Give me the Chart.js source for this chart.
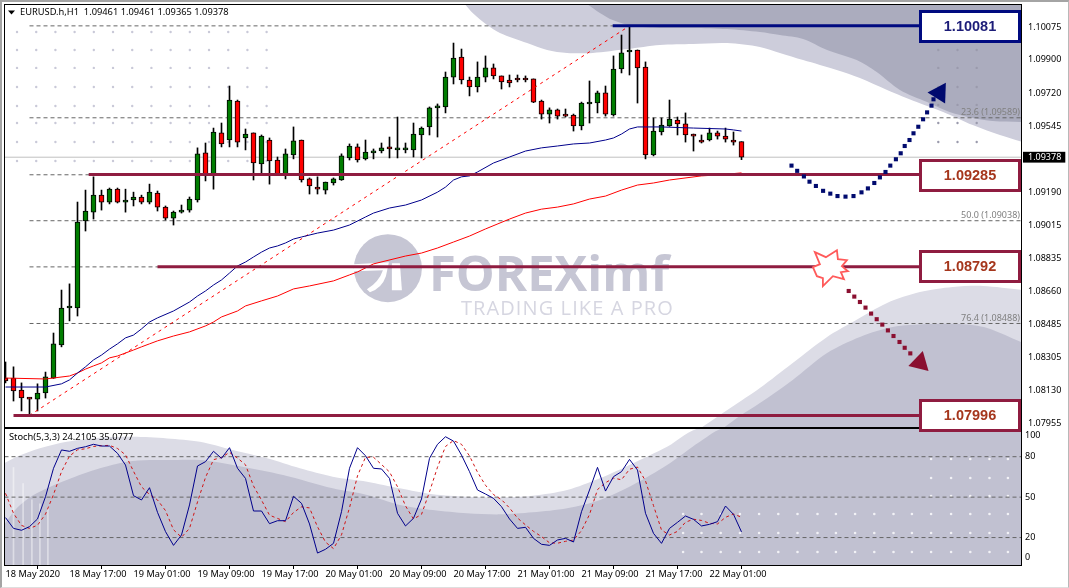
<!DOCTYPE html>
<html>
<head>
<title>EURUSD H1</title>
<meta charset="UTF-8">
<script src="https://cdn.jsdelivr.net/npm/chart.js"></script>
<style>
html, body {margin: 0; padding: 0; background: #fff; overflow: hidden;}
#frame {position: absolute; left: 0; top: 0; width: 1066px; height: 585px; border-top: 2px solid #a4a4a4; border-left: 2px solid #a4a4a4; border-right: 1px solid #b8b8b8; border-bottom: 1px solid #dedede;}
canvas {position: absolute; left: 0; top: 0;}
</style>
</head>
<body>
<div id="frame"></div>
<canvas id="stochChart" width="1069" height="588"></canvas>
<canvas id="priceChart" width="1069" height="588"></canvas>
<script>
// candles, one per hour
const opens = [
  1.08196,1.08196,1.08132,1.08089,1.08083,1.08116,1.08196,1.08373,1.08571,1.08571,
  1.09037,1.09084,1.09175,1.09138,1.09207,1.09138,1.09149,1.09165,1.09138,1.09186,
  1.09111,1.09052,1.09084,1.09095,1.09149,1.09401,1.09283,1.09508,1.09470,1.09679,
  1.09481,1.09508,1.09342,1.09470,1.09363,1.09289,1.09390,1.09470,1.09262,1.09218,
  1.09202,1.09240,1.09256,1.09374,1.09433,1.09369,1.09401,1.09411,1.09433,1.09417,
  1.09417,1.09417,1.09497,1.09540,1.09642,1.09647,1.09807,1.09914,1.09791,1.09754,
  1.09807,1.09856,1.09813,1.09791,1.09802,1.09797,1.09797,1.09679,1.09609,1.09631,
  1.09609,1.09604,1.09545,1.09663,1.09668,1.09722,1.09604,1.09850,1.09941,1.09952,
  1.09861,1.09390,1.09513,1.09545,1.09577,1.09556,1.09497,1.09470,1.09470,1.09508,
  1.09491,1.09470,1.09461];
const highs = [
  1.08282,1.08256,1.08170,1.08092,1.08165,1.08228,1.08437,1.08667,1.08700,1.09138,
  1.09202,1.09273,1.09202,1.09213,1.09213,1.09207,1.09191,1.09175,1.09234,1.09197,
  1.09117,1.09090,1.09122,1.09165,1.09428,1.09454,1.09534,1.09561,1.09759,1.09684,
  1.09529,1.09508,1.09497,1.09481,1.09379,1.09422,1.09540,1.09470,1.09267,1.09273,
  1.09245,1.09267,1.09396,1.09449,1.09449,1.09470,1.09422,1.09454,1.09486,1.09593,
  1.09454,1.09561,1.09540,1.09647,1.09663,1.09834,1.09989,1.09957,1.09807,1.09888,
  1.09920,1.09877,1.09813,1.09818,1.09818,1.09813,1.09797,1.09684,1.09642,1.09636,
  1.09636,1.09609,1.09673,1.09786,1.09732,1.09759,1.09920,1.10032,1.10081,1.09952,
  1.09888,1.09588,1.09588,1.09684,1.09593,1.09615,1.09502,1.09497,1.09534,1.09518,
  1.09534,1.09513,1.09461];
const lows = [
  1.08170,1.08073,1.08020,1.07998,1.08020,1.08089,1.08194,1.08363,1.08502,1.08528,
  1.08983,1.09047,1.09095,1.09128,1.09133,1.09084,1.09117,1.09128,1.09128,1.09090,
  1.09042,1.09015,1.09079,1.09084,1.09138,1.09251,1.09207,1.09433,1.09433,1.09433,
  1.09417,1.09256,1.09289,1.09234,1.09283,1.09262,1.09369,1.09245,1.09181,1.09181,
  1.09181,1.09229,1.09254,1.09363,1.09352,1.09363,1.09369,1.09401,1.09374,1.09374,
  1.09401,1.09379,1.09374,1.09497,1.09486,1.09615,1.09770,1.09770,1.09706,1.09727,
  1.09781,1.09797,1.09743,1.09754,1.09781,1.09781,1.09670,1.09582,1.09561,1.09582,
  1.09593,1.09518,1.09524,1.09561,1.09615,1.09598,1.09598,1.09829,1.09818,1.09668,
  1.09369,1.09385,1.09497,1.09543,1.09497,1.09459,1.09411,1.09454,1.09465,1.09475,
  1.09459,1.09443,1.09365];
const closes = [
  1.08181,1.08127,1.08089,1.08083,1.08116,1.08202,1.08379,1.08571,1.08577,1.09031,
  1.09090,1.09175,1.09138,1.09207,1.09138,1.09149,1.09165,1.09138,1.09191,1.09111,
  1.09052,1.09084,1.09095,1.09154,1.09396,1.09289,1.09513,1.09449,1.09684,1.09459,
  1.09502,1.09347,1.09491,1.09358,1.09289,1.09396,1.09465,1.09256,1.09224,1.09207,
  1.09245,1.09262,1.09385,1.09438,1.09363,1.09406,1.09411,1.09428,1.09422,1.09428,
  1.09428,1.09502,1.09534,1.09642,1.09652,1.09807,1.09909,1.09791,1.09754,1.09807,
  1.09856,1.09813,1.09781,1.09775,1.09791,1.09791,1.09673,1.09609,1.09631,1.09598,
  1.09598,1.09545,1.09668,1.09673,1.09722,1.09609,1.09850,1.09936,1.09952,1.09856,
  1.09390,1.09518,1.09550,1.09582,1.09556,1.09497,1.09491,1.09459,1.09508,1.09491,
  1.09475,1.09459,1.09378];

// moving averages, read at these bars
const blueMaBars = [0,5,7,8,9,10,11,12,13,14,15,16,17,18,19,21,23,24,25,26,27,28,29,30,31,32,33,34,35,36,37,39,41,43,45,46,48,50,52,54,55,56,57,58,59,61,63,65,67,69,71,73,75,76,77,78,79,80,82,86,90,91,92];
const blueMa = [1.08148,1.08148,1.08165,1.08186,1.08223,1.08256,1.08293,1.08319,1.08351,1.08379,1.08411,1.08426,1.08459,1.08496,1.08518,1.08555,1.08603,1.08635,1.08662,1.08694,1.08721,1.08758,1.08796,1.08817,1.08844,1.08870,1.08892,1.08903,1.08919,1.08940,1.08951,1.08972,1.08988,1.09015,1.09058,1.09079,1.09106,1.09122,1.09149,1.09191,1.09218,1.09256,1.09273,1.09278,1.09299,1.09347,1.09379,1.09411,1.09428,1.09438,1.09449,1.09454,1.09470,1.09481,1.09502,1.09529,1.09540,1.09540,1.09540,1.09534,1.09529,1.09524,1.09518];
const redMaBars = [0,5,8,9,10,11,12,13,14,15,16,17,18,19,21,23,25,26,27,29,30,32,34,36,38,41,43,44,46,50,52,54,56,58,60,63,65,67,69,71,73,75,77,79,81,83,87,89,92];
const redMa = [1.08196,1.08191,1.08207,1.08223,1.08244,1.08261,1.08277,1.08304,1.08314,1.08330,1.08346,1.08363,1.08379,1.08395,1.08421,1.08443,1.08475,1.08496,1.08523,1.08555,1.08582,1.08609,1.08635,1.08673,1.08689,1.08716,1.08748,1.08764,1.08807,1.08849,1.08865,1.08892,1.08924,1.08956,1.08994,1.09047,1.09079,1.09100,1.09111,1.09128,1.09154,1.09170,1.09202,1.09229,1.09240,1.09256,1.09278,1.09283,1.09294];

// fibonacci and support/resistance levels
const fibLevels = [1.10081,1.09589,1.09284,1.09038,1.08791,1.08488,1.07994];
const fibLabels = [["23.6 (1.09589)",1.09589],["50.0 (1.09038)",1.09038],["76.4 (1.08488)",1.08488]];
const trendBars = [3,78];
const trendPrices = [1.07996,1.10081];
const bidPrice = 1.09378;
const blueLevel = 1.10081;
const maroonLevels = [1.09285,1.08792,1.07996];
const maroonStarts = [10.4,19,1];
const blueStart = 75.9;
const levelEnd = 114.25;

// price axis
const priceTicks = [1.10075,1.09900,1.09720,1.09545,1.09378,1.09190,1.09015,1.08835,1.08660,1.08485,1.08305,1.08130,1.07955];

// drawn arrows
const upArrowBars = [98.25,98.96,99.8,100.5,101.3,102.2,103.1,104,105,106,107,107.8,108.6,109.3,110,110.6,111.3,111.9,112.4,113,113.5,114.1,114.7,115.2,115.75,116];
const upArrowPrices = [1.09333,1.09305,1.09275,1.09247,1.09224,1.09198,1.09183,1.09170,1.09167,1.09170,1.09190,1.09211,1.09240,1.09270,1.09299,1.09333,1.09367,1.09399,1.09438,1.09470,1.09506,1.09541,1.09581,1.09618,1.09654,1.09688];
const downArrowBars = [105.4,106.1,106.8,107.5,108.2,108.9,109.6,110.3,111,111.75,112.4,113.1];
const downArrowPrices = [1.08662,1.08632,1.08603,1.08573,1.08541,1.08511,1.08482,1.08451,1.08421,1.08389,1.08358,1.08328];

// grey watermark shapes behind the chart
const topLightBars = [57.4,58.4,60.2,61.8,65.2,67.7,70.2,73.4,77.7,81.8,85.9,90.2,94.3,96.8,99.7,103.9,106.8,110.2,113.9,117.2,120.9,124.3,127.2];
const topLightPrices = [1.10198,1.10150,1.10086,1.10043,1.09989,1.09952,1.09936,1.09936,1.09957,1.09979,1.09984,1.09989,1.09968,1.09936,1.09898,1.09845,1.09802,1.09738,1.09673,1.09620,1.09550,1.09497,1.09459];
const topDarkBars = [72.7,74.3,75.9,78.4,81.8,85.9,90.2,94.3,96.8,99.7,102.7,106.4,108.9,111.8,115.2,118,120.9,123.4,127.2];
const topDarkPrices = [1.10198,1.10150,1.10112,1.10080,1.10070,1.10070,1.10064,1.10048,1.10032,1.10011,1.09952,1.09898,1.09834,1.09738,1.09673,1.09620,1.09588,1.09572,1.09566];
const lowLightBars = [87.1,90.6,94.3,98.4,102.7,105.9,110.2,114.3,118.4,122.2,127.2];
const lowLightPrices = [1.07934,1.08036,1.08143,1.08277,1.08416,1.08496,1.08598,1.08656,1.08683,1.08689,1.08667];
const lowDarkBars = [89.9,91.8,94.3,98.4,102.7,106.8,110.9,115.2,119.3,122.7,127.2];
const lowDarkPrices = [1.07934,1.07993,1.08062,1.08186,1.08330,1.08416,1.08469,1.08485,1.08485,1.08464,1.08384];
const stochLightBars = [-0.2,1.4,4.3,7.65,11.8,15.9,20.2,24.3,28.4,32.7,36.8,40.9,45.2,49.3,53.4,57.7,61.8,65.9,70.2,74.3,78.4,82.7,87,127.2];
const stochLightValues = [75.1,80,86.2,91.1,94.1,94.8,93.6,91.1,85,78.8,71.4,65.2,61.5,56.5,52.1,50.3,49.8,51.1,55.3,64,75,87.4,101.3,101.3];
const stochDarkBars = [-0.2,1.4,3.5,7.65,11.8,15.9,20.2,24.3,28.4,34.7,40.9,45.2,49.3,53.4,57.7,61.8,65.9,70.2,74.3,78.4,82.7,86.8,90,127.2];
const stochDarkValues = [29.3,41.7,51.6,62.7,71.4,76.8,77.5,77.5,73.8,66.4,56.5,51.6,44.2,40.4,38,37.2,38.7,41.7,47.9,59,73.8,91.1,101.3,101.3];
const streakBars = [1,2.2,3.3,4.3,5.3];
const streakTops = [72,60,48,45,42];

// dot grids of the watermark
const dotLeftBars = [1.44,3.84,6.24,8.64,11.04,13.44,15.84,18.24,20.64,23.04,25.44,27.84,30.24,32.64];
const dotLeftPrices = [1.10048,1.09952,1.09856,1.09754,1.09652,1.09561,1.09459,1.09358];
const dotRightBars = [116.6,119,121.4];
const dotRightPrices = [1.09952,1.09856,1.09754,1.09658,1.09561,1.09459];
const stochDotLowBars = [84.7,87,89.4,91.8,94.2,96.6,99,101.5,103.8,106.2,108.6,111,113.3,115.7,118.2,120.6,123,125.3];
const stochDotLowValues = [37.5,23.4,9.3];
const stochDotHighBars = [115.7,118.2,120.6,123,125.3];
const stochDotHighValues = [78.3,64.2,50.8];

// stochastic
const stochK = [
  34.8,26.8,25.4,28.1,33.8,50.3,71.4,85,84,86.2,
  87.4,89.2,87.9,87.9,82.5,73.8,51.1,47.9,57,38.7,
  24.4,14.2,21.9,44.2,73.1,76.3,84,78.8,86.7,71.4,
  63.9,39.7,39.7,30.3,32.5,32.5,50.6,45.4,30.1,8.5,
  11.3,15.7,39.2,71.4,86.7,80.7,71.4,70.9,63.9,38,
  28.6,34.3,48.6,78.8,89.2,94.8,91.6,81.2,68.9,55.3,
  52.3,49.1,42.9,33.8,26.8,27.6,19.4,15,14.2,18.2,
  19.4,16.7,39.2,55.3,72.1,54.5,65.2,68.9,78,70.1,
  38,23.1,15.7,26.8,31.3,36,33.5,28.6,29.8,31.8,
  43.4,37.2,24.21];
const stochD = [
  52.8,38,29,26.8,29.1,37.4,51.9,68.9,80.5,85.1,
  85.9,87.6,88.2,88.4,86.1,81.4,69.2,57.6,52,47.9,
  40,25.8,20.2,26.8,46.4,64.6,77.8,79.4,83.2,79,
  74,58.3,47.8,36.6,34.2,31.8,38.6,42.8,42,28,
  16.6,11.8,22,42.1,65.8,79.6,79.6,74.2,68.7,57.7,
  43.5,33.7,37.2,53.9,72.2,87.6,92,89.2,80.6,68.5,
  58.8,51.9,48.1,42,34.5,29.4,24.6,20.7,16.1,15.8,
  17.2,18.1,25.1,37.1,55.6,60.7,64.1,62.9,70.7,72.3,
  62,43.7,25.6,21.9,24.6,31.4,33.6,32.7,30.6,30.1,
  35,37.5,35.08];
const stochLevels = [80,50,20];
const stochTickValues = [96,80,50,20,5];
const stochTickLabels = ["100","80","50","20","0"];

// time axis
const timeTickBars = [0,8,16,24,32,40,48,56,64,72,80,88];
const timeLabels = ["18 May 2020","18 May 17:00","19 May 01:00","19 May 09:00","19 May 17:00","20 May 01:00","20 May 09:00","20 May 17:00","21 May 01:00","21 May 09:00","21 May 17:00","22 May 01:00"];

const chartTitle = "EURUSD.h,H1  1.09461 1.09461 1.09365 1.09378";
const stochTitle = "Stoch(5,3,3) 24.2105 35.0777";
const UI_FONT = '"Noto Sans", sans-serif';

function xy(xs, ys) {
  return xs.map((x, i) => ({x: x, y: ys[i]}));
}
function grid(xs, ys) {
  const pts = [];
  ys.forEach(y => xs.forEach(x => pts.push({x: x, y: y})));
  return pts;
}
function hline(x0, x1, y) {
  return [{x: x0, y: y}, {x: x1, y: y}];
}
function shape(data, color, fillTo, order) {
  return {type: 'line', data: data, borderWidth: 0, pointRadius: 0, backgroundColor: color, fill: fillTo, tension: 0.3, order: order};
}

const X_MIN = -0.1875, X_MAX = 126.9375;

const candleColors = opens.map((o, i) => closes[i] > o ? '#007d00' : (closes[i] < o ? '#ff0000' : '#000'));
const bars = opens.map((o, i) => i);

const priceDatasets = [
  shape(xy(topLightBars, topLightPrices), '#cdcddb', 'end', 100),
  shape(xy(lowLightBars, lowLightPrices), '#dcdce6', 'start', 100),
  shape(xy(topDarkBars, topDarkPrices), '#abacbe', 'end', 99),
  shape(xy(lowDarkBars, lowDarkPrices), '#c1c1d1', 'start', 99),
  {type: 'scatter', data: grid(dotLeftBars, dotLeftPrices), pointRadius: 1.2, pointBackgroundColor: '#c9c9d8', borderWidth: 0, order: 98},
  {type: 'scatter', data: grid(dotRightBars, dotRightPrices), pointRadius: 1.2, pointBackgroundColor: '#9a9aac', borderWidth: 0, order: 98}
];
fibLevels.forEach(p => {
  priceDatasets.push({type: 'line', data: hline(3, 127, p), borderColor: '#666', borderWidth: 1, borderDash: [4, 3], pointRadius: 0, order: 90});
});
priceDatasets.push({type: 'line', data: hline(-1, 127, bidPrice), borderColor: '#c0c0c0', borderWidth: 1, pointRadius: 0, order: 89});
priceDatasets.push({type: 'bar', data: bars.map(i => ({x: i, y: [lows[i], highs[i]]})), backgroundColor: '#000', barThickness: 1, grouped: false, order: 80});
priceDatasets.push({type: 'bar', data: bars.map(i => ({x: i, y: [opens[i], closes[i]]})), backgroundColor: candleColors, borderColor: '#000', borderWidth: 1, borderSkipped: false, barThickness: 5, minBarLength: 2, grouped: false, order: 79});
priceDatasets.push({type: 'line', data: xy(trendBars, trendPrices), borderColor: '#ff0000', borderWidth: 1, borderDash: [3, 4], pointRadius: 0, order: 70});
priceDatasets.push({type: 'line', data: xy(blueMaBars, blueMa), borderColor: '#00008b', borderWidth: 1, pointRadius: 0, order: 69});
priceDatasets.push({type: 'line', data: xy(redMaBars, redMa), borderColor: '#ff0000', borderWidth: 1, pointRadius: 0, order: 69});
maroonLevels.forEach((p, i) => {
  priceDatasets.push({type: 'line', data: hline(maroonStarts[i], levelEnd, p), borderColor: '#8f1c40', borderWidth: 3, pointRadius: 0, order: 60});
});
priceDatasets.push({type: 'line', data: hline(blueStart, levelEnd, blueLevel), borderColor: '#000a80', borderWidth: 3, pointRadius: 0, order: 60});
priceDatasets.push({type: 'scatter', data: xy(upArrowBars, upArrowPrices), pointStyle: 'rect', pointRadius: 2.9, pointBackgroundColor: '#000a6e', borderWidth: 0, order: 50});
priceDatasets.push({type: 'scatter', data: [{x: 116.75, y: 1.09722}], pointStyle: 'triangle', pointRadius: 12, rotation: 32, pointBackgroundColor: '#000a6e', borderWidth: 0, order: 50});
priceDatasets.push({type: 'scatter', data: xy(downArrowBars, downArrowPrices), pointStyle: 'rect', pointRadius: 2.9, pointBackgroundColor: '#8a0f30', borderWidth: 0, order: 50});
priceDatasets.push({type: 'scatter', data: [{x: 114.3, y: 1.08278}], pointStyle: 'triangle', pointRadius: 12, rotation: 134, pointBackgroundColor: '#8a0f30', borderWidth: 0, order: 50});

function frameBox(ctx, area) {
  ctx.save();
  ctx.strokeStyle = '#000';
  ctx.lineWidth = 1;
  ctx.strokeRect(area.left + 0.5, area.top + 0.5, area.right - area.left, area.bottom - area.top);
  ctx.restore();
}

// logo behind the candles
const watermark = {
  id: 'watermark',
  beforeDatasetsDraw(chart) {
    const c = chart.ctx;
    const cx = chart.scales.x.getPixelForValue(47.8);
    const cy = chart.scales.y.getPixelForValue(1.08784);
    c.save();
    c.fillStyle = '#c6c6d4';
    c.beginPath();
    c.arc(cx, cy, 34, 0, Math.PI * 2);
    c.fill();
    c.fillStyle = '#fff';
    c.beginPath();
    c.moveTo(cx - 34, cy - 4);
    c.lineTo(cx + 1, cy - 6);
    c.lineTo(cx - 2, cy + 8);
    c.quadraticCurveTo(cx - 6, cy + 20, cx - 18, cy + 24);
    c.lineTo(cx - 21, cy + 21);
    c.quadraticCurveTo(cx - 9, cy + 14, cx - 5, cy + 2);
    c.lineTo(cx - 34, cy + 3);
    c.closePath();
    c.fill();
    c.beginPath();
    c.moveTo(cx + 4, cy - 5);
    c.lineTo(cx + 12, cy - 5);
    c.lineTo(cx + 14, cy + 22);
    c.lineTo(cx + 4, cy + 22);
    c.closePath();
    c.fill();
    c.fillStyle = '#c6c6d4';
    c.textBaseline = 'alphabetic';
    c.textAlign = 'left';
    c.font = 'bold 49px "Open Sans", sans-serif';
    c.fillText('FOREXimf', cx + 41, cy + 23);
    c.fillStyle = '#d6d6e1';
    c.font = '20px "Open Sans", sans-serif';
    c.letterSpacing = '1.1px';
    c.fillText('TRADING LIKE A PRO', cx + 73, cy + 47);
    c.restore();
  }
};

// value boxes, labels, burst and the title on top of everything
const annotations = {
  id: 'annotations',
  afterDraw(chart) {
    const c = chart.ctx;
    const sx = chart.scales.x, sy = chart.scales.y;
    frameBox(c, chart.chartArea);
    c.save();
    c.textBaseline = 'middle';
    // fib labels
    c.textAlign = 'right';
    c.font = '9px ' + UI_FONT;
    c.fillStyle = '#808080';
    fibLabels.forEach(l => c.fillText(l[0], chart.chartArea.right - 1, sy.getPixelForValue(l[1]) - 5));
    // burst
    const bx = sx.getPixelForValue(103.3), by = sy.getPixelForValue(1.08784);
    const burst = [[-17,-16],[-6,-11],[5,-18],[6,-9],[15,-8],[10,-2],[16,3],[9,4],[12,11],[1,8],[-9,18],[-9,10],[-15,8],[-19,-1],[-12,-4]];
    c.beginPath();
    burst.forEach((p, i) => i ? c.lineTo(bx + p[0], by + p[1]) : c.moveTo(bx + p[0], by + p[1]));
    c.closePath();
    c.fillStyle = '#fff';
    c.fill();
    c.strokeStyle = '#ff5a5a';
    c.lineWidth = 1.8;
    c.stroke();
    // level boxes
    const boxLeft = 919, boxWidth = 102;
    const drawBox = (price, top, height, text, line, ink) => {
      c.fillStyle = '#fff';
      c.fillRect(boxLeft, top, boxWidth, height);
      c.strokeStyle = line;
      c.lineWidth = 3;
      c.strokeRect(boxLeft + 1.5, top + 1.5, boxWidth - 3, height - 3);
      c.fillStyle = ink;
      c.textAlign = 'center';
      c.font = 'bold 14.5px "Liberation Sans", sans-serif';
      c.fillText(text, boxLeft + boxWidth / 2, top + height / 2 + 0.5);
    };
    drawBox(blueLevel, 10, 33, blueLevel.toFixed(5), '#000a80', '#1c1c78');
    drawBox(maroonLevels[0], 159, 33, maroonLevels[0].toFixed(5), '#8f1c40', '#a5361c');
    drawBox(maroonLevels[1], 250, 33, maroonLevels[1].toFixed(5), '#8f1c40', '#a5361c');
    drawBox(maroonLevels[2], 399, 33, maroonLevels[2].toFixed(5), '#8f1c40', '#a5361c');
    // title
    c.textAlign = 'left';
    c.fillStyle = '#000';
    c.font = '9.3px ' + UI_FONT;
    c.fillText(chartTitle, 20, 12.5);
    c.beginPath();
    c.moveTo(8, 10.5);
    c.lineTo(15, 10.5);
    c.lineTo(11.5, 14.5);
    c.closePath();
    c.fill();
    c.restore();
  }
};

new Chart(document.getElementById('priceChart'), {
  data: {datasets: priceDatasets},
  plugins: [watermark, annotations],
  options: {
    responsive: false,
    animation: false,
    events: [],
    layout: {autoPadding: false, padding: {left: 4, top: 4, right: 0, bottom: 161}},
    plugins: {legend: {display: false}, tooltip: {enabled: false}},
    scales: {
      x: {type: 'linear', min: X_MIN, max: X_MAX, display: false, offset: false},
      y: {
        type: 'linear', position: 'right', min: 1.07934, max: 1.10198,
        grid: {display: false, drawTicks: false},
        border: {display: false},
        afterFit(s) { s.width = 48; s.paddingTop = 0; s.paddingBottom = 0; },
        afterBuildTicks(s) { s.ticks = priceTicks.map(v => ({value: v})); },
        ticks: {
          padding: 7,
          autoSkip: false,
          font: {family: '"Noto Sans", sans-serif', size: 9},
          color: ctx => ctx.tick && ctx.tick.value === bidPrice ? '#fff' : '#000',
          showLabelBackdrop: ctx => !!ctx.tick && ctx.tick.value === bidPrice,
          backdropColor: '#000',
          backdropPadding: {left: 5, right: 4, top: 0, bottom: 0},
          callback: v => v.toFixed(5)
        }
      }
    }
  }
});

const stochAnnotations = {
  id: 'stochAnnotations',
  afterDraw(chart) {
    const c = chart.ctx;
    frameBox(c, chart.chartArea);
    c.save();
    c.textBaseline = 'middle';
    c.textAlign = 'left';
    c.fillStyle = '#000';
    c.font = '9.3px ' + UI_FONT;
    c.fillText(stochTitle, 9, 437.5);
    c.restore();
  }
};

const stochDatasets = [
  shape(xy(stochLightBars, stochLightValues), '#dcdce6', 'start', 100),
  shape(xy(stochDarkBars, stochDarkValues), '#c1c1d1', 'start', 99),
  {type: 'bar', data: streakBars.map((b, i) => ({x: b, y: [-1, streakTops[i]]})), backgroundColor: 'rgba(255,255,255,0.45)', barThickness: 1, grouped: false, order: 98},
  {type: 'scatter', data: grid(stochDotLowBars, stochDotLowValues), pointRadius: 1.3, pointBackgroundColor: '#f2f2f6', borderWidth: 0, order: 97},
  {type: 'scatter', data: grid(stochDotHighBars, stochDotHighValues), pointRadius: 1.3, pointBackgroundColor: '#f2f2f6', borderWidth: 0, order: 97}
];
stochLevels.forEach(v => {
  stochDatasets.push({type: 'line', data: hline(-1, 127, v), borderColor: '#666', borderWidth: 1, borderDash: [4, 3], pointRadius: 0, order: 90});
});
stochDatasets.push({type: 'line', data: xy(bars, stochD), borderColor: '#d01414', borderWidth: 1, borderDash: [3, 3], pointRadius: 0, order: 81});
stochDatasets.push({type: 'line', data: xy(bars, stochK), borderColor: '#00008b', borderWidth: 1, pointRadius: 0, order: 80});

new Chart(document.getElementById('stochChart'), {
  data: {datasets: stochDatasets},
  plugins: [stochAnnotations],
  options: {
    responsive: false,
    animation: false,
    events: [],
    layout: {autoPadding: false, padding: {left: 4, top: 428, right: 0, bottom: 0}},
    plugins: {legend: {display: false}, tooltip: {enabled: false}},
    scales: {
      x: {
        type: 'linear', min: X_MIN, max: X_MAX, offset: false,
        grid: {drawOnChartArea: false, tickLength: 4, tickColor: '#000', tickWidth: 1},
        border: {display: false},
        afterFit(s) { s.height = 23; },
        afterBuildTicks(s) { s.ticks = timeTickBars.map(v => ({value: v})); },
        ticks: {
          align: 'start', autoSkip: false, maxRotation: 0, padding: 0,
          color: '#000',
          font: {family: '"Noto Sans", sans-serif', size: 9.2},
          callback: v => timeLabels[timeTickBars.indexOf(v)]
        }
      },
      y: {
        type: 'linear', position: 'right', min: -0.37, max: 101.3,
        grid: {display: false, drawTicks: false},
        border: {display: false},
        afterFit(s) { s.width = 48; },
        afterBuildTicks(s) { s.ticks = stochTickValues.map(v => ({value: v})); },
        ticks: {
          padding: 4,
          autoSkip: false,
          color: '#000',
          font: {family: '"Noto Sans", sans-serif', size: 9},
          callback: v => stochTickLabels[stochTickValues.indexOf(v)]
        }
      }
    }
  }
});
</script>
</body>
</html>
